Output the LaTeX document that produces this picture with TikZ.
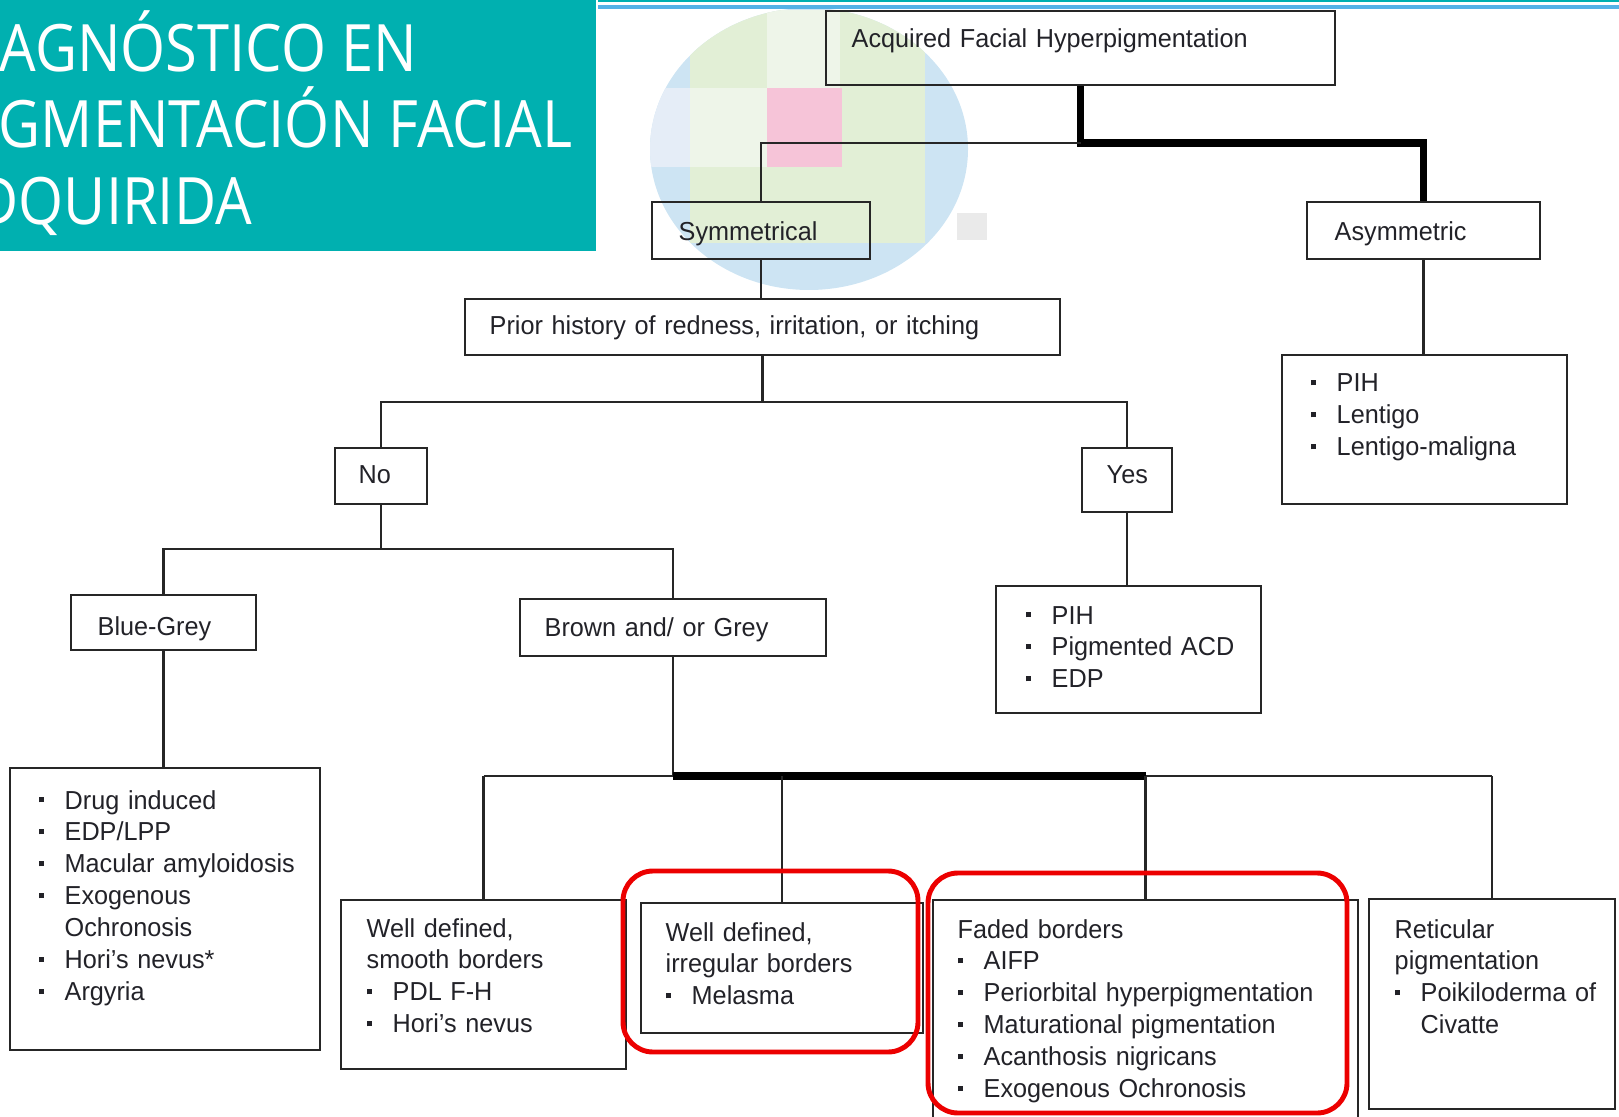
\documentclass[tikz,border=0pt]{standalone}
\usepackage{fontspec}
\setmainfont[FakeStretch=0.97]{Liberation Sans}
\newfontfamily\titlefont[FakeStretch=0.885]{Open Sans}
\usepackage{tikz}
\usetikzlibrary{fit,calc}

\definecolor{titleteal}{RGB}{0,176,176}
\definecolor{lineblue}{RGB}{84,178,230}
\definecolor{boxgrey}{RGB}{38,38,38}
\definecolor{textgrey}{RGB}{34,34,40}
\definecolor{hired}{RGB}{236,0,0}
\definecolor{blobblue}{RGB}{205,228,243}
\definecolor{blobgreen}{RGB}{226,239,214}
\definecolor{blobpale}{RGB}{238,245,233}
\definecolor{bloblav}{RGB}{229,237,247}
\definecolor{blobpink}{RGB}{246,196,216}
\definecolor{blobgrey}{RGB}{234,234,234}

\newcommand{\bul}{\makebox[2.6mm][l]{\rule[1.9pt]{1.4pt}{1.4pt}}}
\newcommand{\ind}{\hspace*{2.6mm}}

\begin{document}
\begin{tikzpicture}[x=0.1mm,y=-0.1mm]
    \tikzstyle{box}    = [draw=boxgrey, line width=0.7pt, inner sep=0pt]
    \tikzstyle{edge}   = [draw=boxgrey, line width=0.6pt]
    \tikzstyle{tedge}  = [draw=black, line width=2pt]
    \tikzstyle{txt}    = [anchor=base west, inner sep=0pt, align=left, text width=60mm,
                          font=\fontsize{7.4}{9.1}\selectfont, text=textgrey]
    \tikzstyle{ttl}    = [anchor=base west, inner sep=0pt, text=white,
                          font=\titlefont\fontsize{18.6}{22}\selectfont]
    \tikzstyle{hilite} = [draw=hired, line width=1.4pt, rounded corners=3mm, inner sep=0pt]

    \useasboundingbox (0,0) rectangle (1619,1117);

    % blurred picture behind the top of the tree
    \begin{scope}
      \clip (809,149) ellipse [x radius=159, y radius=141];
      \fill[blobblue]  (640,0) rectangle (980,300);
      \fill[blobgreen] (690,10) rectangle (925,243);
      \fill[blobpale]  (767,10) rectangle (840,88);
      \fill[blobpale]  (690,88) rectangle (767,167);
      \fill[bloblav]   (640,88) rectangle (690,167);
      \fill[blobpink]  (767,88) rectangle (842,167);
    \end{scope}
    \fill[blobgrey] (957,213) rectangle (987,240);

    % title band
    \fill[titleteal] (0,0) rectangle (596,251);
    \draw[titleteal, line width=0.8pt] (598,1) -- (1619,1);
    \draw[lineblue, line width=1.1pt] (598,7) -- (1619,7);
    \node[ttl] (title1) at (-1,72)  {AGNÓSTICO EN};
    \node[ttl] (title2) at (-2,148) {GMENTACIÓN FACIAL};
    \node[ttl] (title3) at (-24,225) {DQUIRIDA};

    % boxes
    \node[box, fit={(826,11) (1335,85)}]    (nAcq)    {};
    \node[box, fit={(652,202) (870,259)}]   (nSym)    {};
    \node[box, fit={(1307,202) (1540,259)}] (nAsym)   {};
    \node[box, fit={(465,299) (1060,355)}]  (nPrior)  {};
    \node[box, fit={(1282,355) (1567,504)}] (nAsymL)  {};
    \node[box, fit={(335,448) (427,504)}]   (nNo)     {};
    \node[box, fit={(1082,448) (1172,512)}] (nYes)    {};
    \node[box, fit={(996,586) (1261,713)}]  (nYesL)   {};
    \node[box, fit={(71,595) (256,650)}]    (nBlue)   {};
    \node[box, fit={(520,599) (826,656)}]   (nBrown)  {};
    \node[box, fit={(10,768) (320,1050)}]   (nBlueL)  {};
    \node[box, fit={(341,900) (626,1069)}]  (nSmooth) {};
    \node[box, fit={(641,903) (923,1033)}]  (nIrreg)  {};
    \node[box, fit={(933,900) (1358,1140)}] (nFaded)  {};
    \node[box, fit={(1369,899) (1615,1109)}] (nRetic) {};

    % levels of the tree
    \coordinate (yTop) at (0,143);
    \coordinate (yYN)  at (0,402);
    \coordinate (yCol) at (0,549);
    \coordinate (yBot) at (0,776);

    \draw[tedge] (nAcq.south) -- (nAcq.south |- yTop) -| (nAsym.north);
    \draw[edge] (nAcq.south |- yTop) -| (nSym.north);
    \draw[edge] (nSym.south) -- (nSym.south |- nPrior.north);
    \draw[edge] (nAsym.south) -- (nAsym.south |- nAsymL.north);
    \draw[edge] (nPrior.south) -- (nPrior.south |- yYN);
    \draw[edge] (nNo.north) |- (nPrior.south |- yYN) -| (nYes.north);
    \draw[edge] (nYes.south) -- (nYes.south |- nYesL.north);
    \draw[edge] (nNo.south) -- (nNo.south |- yCol);
    \draw[edge] (nBlue.north) |- (nNo.south |- yCol) -| (nBrown.north);
    \draw[edge] (nBlue.south) -- (nBlue.south |- nBlueL.north);
    \draw[edge] (nBrown.south) -- (nBrown.south |- yBot);
    \draw[edge] (nSmooth.north |- yBot) -- (nRetic.north |- yBot);
    \draw[tedge] (nBrown.south |- yBot) -- (nFaded.north |- yBot);
    \foreach \n in {nSmooth,nIrreg,nFaded,nRetic}
      \draw[edge] (\n.north) -- (\n.north |- yBot);

    % texts
    \node[txt] (tAcq)    at (851,48)   {Acquired Facial Hyperpigmentation};
    \node[txt] (tSym)    at (678,241)  {Symmetrical};
    \node[txt] (tAsym)   at (1334,241) {Asymmetric};
    \node[txt] (tPrior)  at (489,335)  {Prior history of redness, irritation, or itching};
    \node[txt] (tAsymL)  at (1310,392) {\bul PIH\\\bul Lentigo\\\bul Lentigo-maligna};
    \node[txt] (tNo)     at (358,484)  {No};
    \node[txt] (tYes)    at (1106,484) {Yes};
    \node[txt] (tYesL)   at (1025,624) {\bul PIH\\\bul Pigmented ACD\\\bul EDP};
    \node[txt] (tBlue)   at (97,635)   {Blue-Grey};
    \node[txt] (tBrown)  at (544,636)  {Brown and/ or Grey};
    \node[txt] (tBlueL)  at (38,809)   {\bul Drug induced\\\bul EDP/LPP\\\bul Macular amyloidosis\\
                                        \bul Exogenous\\\ind Ochronosis\\\bul Hori's nevus*\\\bul Argyria};
    \node[txt] (tSmooth) at (366,937)  {Well defined,\\smooth borders\\\bul PDL F-H\\\bul Hori's nevus};
    \node[txt] (tIrreg)  at (665,941)  {Well defined,\\irregular borders\\\bul Melasma};
    \node[txt] (tFaded)  at (957,938)  {Faded borders\\\bul AIFP\\\bul Periorbital hyperpigmentation\\
                                        \bul Maturational pigmentation\\\bul Acanthosis nigricans\\
                                        \bul Exogenous Ochronosis};
    \node[txt] (tRetic)  at (1394,938) {Reticular\\pigmentation\\\bul Poikiloderma of\\\ind Civatte};

    % red marks
    \node[hilite, fit={(623,871) (918,1052)}]  (hMelasma) {};
    \node[hilite, fit={(928,873) (1347,1113)}] (hFaded)   {};
\end{tikzpicture}
\end{document}
